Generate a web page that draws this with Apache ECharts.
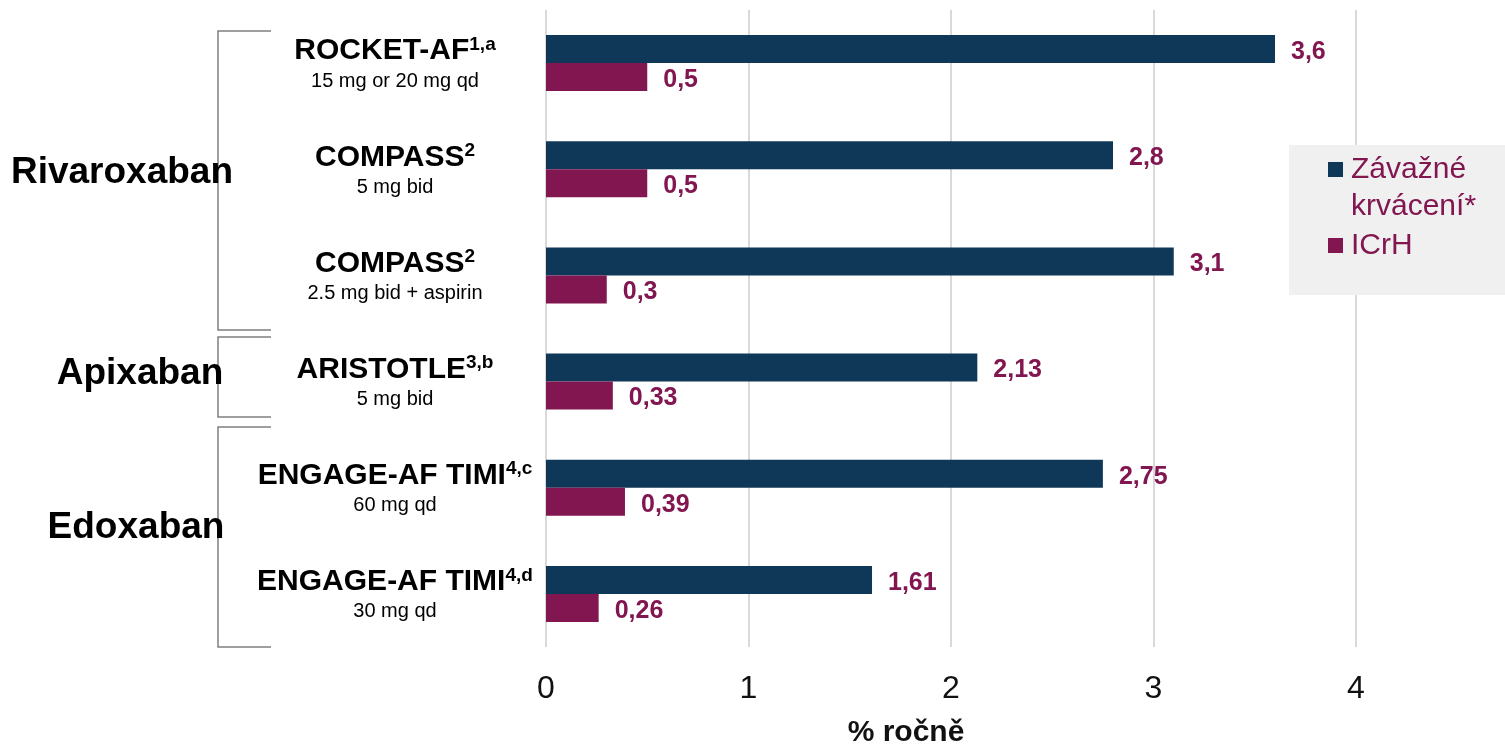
<!DOCTYPE html>
<html>
<head>
<meta charset="utf-8">
<script src="https://cdn.jsdelivr.net/npm/echarts@6/dist/echarts.min.js"></script>
<style>
  html, body { margin: 0; padding: 0; background: #fff; }
  #main { width: 1505px; height: 747px; }
</style>
</head>
<body>
<div id="main"></div>
<script>
// data
var trialNames = ['ROCKET-AF', 'COMPASS', 'COMPASS', 'ARISTOTLE', 'ENGAGE-AF TIMI', 'ENGAGE-AF TIMI'];
var trialRefs = ['1,a', '2', '2', '3,b', '4,c', '4,d'];
var trialDoses = ['15 mg or 20 mg qd', '5 mg bid', '2.5 mg bid + aspirin', '5 mg bid', '60 mg qd', '30 mg qd'];
var majorBleeding = [3.6, 2.8, 3.1, 2.13, 2.75, 1.61];
var ich = [0.5, 0.5, 0.3, 0.33, 0.39, 0.26];
var seriesNames = ['Závažné krvácení*', 'ICrH'];
var xTicks = [0, 1, 2, 3, 4];
var drugGroups = ['Rivaroxaban', 'Apixaban', 'Edoxaban'];

var navy = '#0e3758';
var maroon = '#821650';
var font = '"Liberation Sans", Arial, sans-serif';

var chart = echarts.init(document.getElementById('main'));

function fmtVal(p) {
  return String(p.value).replace('.', ',');
}

// závorky u skupin (pixely)
var brackets = [
  [[271, 31], [218, 31], [218, 330], [271, 330]],
  [[271, 337], [218, 337], [218, 417], [271, 417]],
  [[271, 427], [218, 427], [218, 647], [271, 647]]
];
var groupPos = [[122, 173], [140, 374], [136, 528]];

var graphics = [];
brackets.forEach(function (pts) {
  graphics.push({
    type: 'polyline',
    shape: { points: pts },
    style: { stroke: '#7f7f7f', lineWidth: 1.5, fill: null },
    silent: true
  });
});
drugGroups.forEach(function (g, i) {
  graphics.push({
    type: 'text',
    x: groupPos[i][0],
    y: groupPos[i][1],
    style: {
      text: g,
      font: 'bold 37px ' + font,
      fill: '#000',
      textAlign: 'center',
      textVerticalAlign: 'middle'
    }
  });
});
// pozadí legendy
graphics.push({
  type: 'rect',
  left: 1289,
  top: 145,
  z: 10,
  shape: { width: 216, height: 150 },
  style: { fill: '#f0f0f0' },
  silent: true
});

var option = {
  animation: false,
  textStyle: { fontFamily: font },
  grid: {
    left: 546,
    right: 149,
    top: 10,
    bottom: 100,
    containLabel: false,
    outerBoundsMode: 'none'
  },
  legend: {
    orient: 'vertical',
    left: 1323,
    top: 109,
    z: 20,
    itemGap: 2,
    itemWidth: 15,
    itemHeight: 15,
    icon: 'rect',
    data: seriesNames,
    formatter: function (name) {
      return name === seriesNames[0] ? '\nZávažné\nkrvácení*' : name;
    },
    textStyle: {
      fontSize: 30,
      lineHeight: 37,
      color: maroon,
      padding: [0, 0, 0, 3]
    }
  },
  xAxis: {
    type: 'value',
    min: 0,
    max: 4,
    interval: 1,
    name: '% ročně',
    nameLocation: 'middle',
    nameGap: 71,
    nameTextStyle: { fontSize: 30, fontWeight: 'bold', color: '#111', padding: [0, 90, 0, 0] },
    axisLine: { show: false },
    axisTick: { show: false },
    axisLabel: {
      fontSize: 32,
      color: '#111',
      margin: 26,
      formatter: function (v) { return xTicks.indexOf(v) >= 0 ? String(v) : ''; }
    },
    splitLine: { lineStyle: { color: '#d9d9d9', width: 2 } }
  },
  yAxis: {
    type: 'category',
    inverse: true,
    data: trialNames,
    axisLine: { show: false },
    axisTick: { show: false },
    axisLabel: {
      margin: 151,
      align: 'center',
      padding: [4, 0, 0, 0],
      formatter: function (v, i) {
        return '{t|' + trialNames[i] + '}{s|' + trialRefs[i] + '}\n{d|' + trialDoses[i] + '}';
      },
      rich: {
        t: { fontSize: 30, fontWeight: 'bold', color: '#000', lineHeight: 32, align: 'center' },
        s: { fontSize: 19, fontWeight: 'bold', color: '#000', lineHeight: 30, verticalAlign: 'top', align: 'center' },
        d: { fontSize: 20, color: '#000', lineHeight: 28, align: 'center' }
      }
    }
  },
  series: [
    {
      name: seriesNames[0],
      type: 'bar',
      data: majorBleeding,
      barWidth: 28,
      barGap: '0%',
      itemStyle: { color: navy },
      label: {
        show: true,
        position: 'right',
        distance: 16,
        offset: [0, 3],
        fontSize: 25,
        fontWeight: 'bold',
        color: maroon,
        formatter: fmtVal
      }
    },
    {
      name: seriesNames[1],
      type: 'bar',
      data: ich,
      barWidth: 28,
      itemStyle: { color: maroon },
      label: {
        show: true,
        position: 'right',
        distance: 16,
        offset: [0, 3],
        fontSize: 25,
        fontWeight: 'bold',
        color: maroon,
        formatter: fmtVal
      }
    }
  ],
  graphic: graphics
};

chart.setOption(option);
</script>
</body>
</html>
